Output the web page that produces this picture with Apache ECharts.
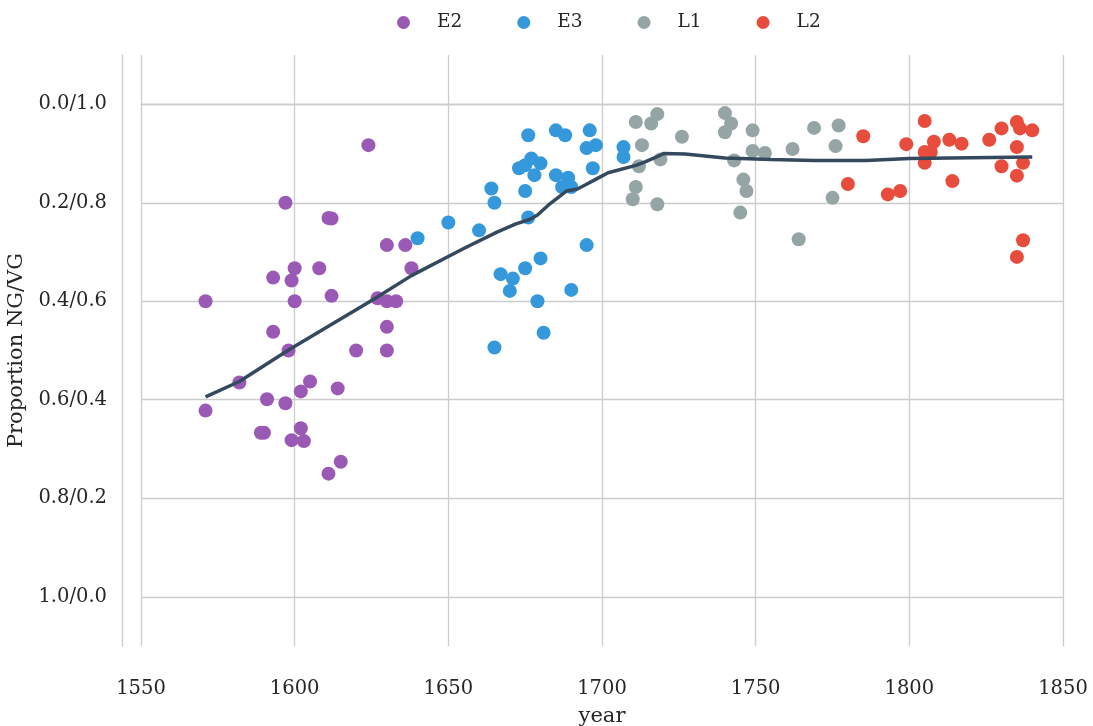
<!DOCTYPE html>
<html>
<head>
<meta charset="utf-8">
<script src="https://cdn.jsdelivr.net/npm/echarts@6/dist/echarts.min.js"></script>
<style>html,body{margin:0;padding:0;background:#fff}#c{width:1093px;height:726px}</style>
</head>
<body>
<div id="c"></div>
<script>
// ---- data ----
const e2Years = [1624,1597,1611,1612,1630,1636,1600,1608,1593,1599,1638,1571,1600,1612,1627,1630,1633,1593,1630,1598,1620,1630,1582,1605,1602,1614,1571,1591,1597,1589,1590,1602,1599,1603,1615,1611];
const e2Vals  = [0.083,0.200,0.231,0.232,0.286,0.286,0.333,0.333,0.352,0.358,0.333,0.400,0.400,0.389,0.394,0.400,0.400,0.462,0.452,0.500,0.500,0.500,0.565,0.563,0.583,0.577,0.622,0.599,0.607,0.667,0.667,0.658,0.682,0.684,0.726,0.750];

const e3Years = [1676,1685,1688,1696,1695,1698,1707,1707,1673,1675,1677,1680,1678,1685,1689,1687,1690,1697,1664,1665,1675,1676,1650,1660,1640,1695,1680,1675,1667,1671,1670,1690,1679,1681,1665];
const e3Vals  = [0.063,0.053,0.063,0.053,0.089,0.083,0.087,0.107,0.130,0.124,0.110,0.120,0.144,0.144,0.149,0.168,0.168,0.130,0.171,0.200,0.176,0.230,0.240,0.256,0.272,0.286,0.313,0.333,0.345,0.354,0.379,0.377,0.400,0.464,0.494];

const l1Years = [1711,1716,1718,1713,1712,1719,1726,1711,1710,1718,1740,1742,1740,1749,1749,1753,1743,1746,1747,1745,1762,1769,1777,1776,1775,1764];
const l1Vals  = [0.036,0.039,0.020,0.083,0.126,0.112,0.066,0.168,0.193,0.203,0.018,0.039,0.057,0.053,0.095,0.099,0.114,0.153,0.176,0.220,0.091,0.048,0.043,0.085,0.190,0.274];

const l2Years = [1785,1780,1793,1797,1799,1805,1808,1805,1807,1805,1813,1817,1814,1826,1830,1830,1835,1836,1840,1835,1837,1835,1837,1835];
const l2Vals  = [0.065,0.162,0.183,0.176,0.081,0.034,0.076,0.097,0.097,0.119,0.072,0.080,0.156,0.072,0.049,0.126,0.036,0.049,0.053,0.087,0.119,0.145,0.276,0.310];

const trendYears = [1571,1582,1598,1626,1638,1655,1666,1672,1676.5,1679,1682.5,1686,1688.5,1692,1694.5,1699,1702,1711,1714,1718.5,1720,1727,1740,1755,1769,1786,1800,1840];
const trendVals  = [0.594,0.563,0.499,0.395,0.348,0.293,0.259,0.243,0.234,0.225,0.205,0.188,0.176,0.172,0.164,0.149,0.139,0.124,0.117,0.105,0.100,0.101,0.109,0.112,0.114,0.114,0.110,0.107];

const yTicks = [0, 0.2, 0.4, 0.6, 0.8, 1.0];
const seriesNames = ['E2','E3','L1','L2'];
const colors = ['#9b59b6','#3498db','#95a5a6','#e74c3c'];

// ---- chart ----
const zip = (xs, ys) => xs.map((x, i) => [x, ys[i]]);
const groups = [[e2Years,e2Vals],[e3Years,e3Vals],[l1Years,l1Vals],[l2Years,l2Vals]];
const FONT = 'DejaVu Serif';
const TXT = '#262626';
const GRID = '#cccccc';

const chart = echarts.init(document.getElementById('c'), null, {renderer:'canvas'});
chart.setOption({
  animation: false,
  backgroundColor: '#fff',
  color: colors,
  textStyle: {fontFamily: FONT, color: TXT},
  legend: {
    data: seriesNames,
    left: 392, top: 8,
    icon: 'circle',
    itemWidth: 13, itemHeight: 13,
    itemGap: 55,
    textStyle: {fontFamily: FONT, fontSize: 18.5, color: TXT, padding: [0,0,0,22]}
  },
  grid: {left: 141, right: 30, top: 55, bottom: 80, containLabel: false, outerBoundsMode: 'none'},
  xAxis: {
    type: 'value', min: 1550, max: 1850, interval: 50,
    offset: 19,
    name: 'year', nameLocation: 'middle', nameGap: 41,
    nameTextStyle: {fontFamily: FONT, fontSize: 21, color: TXT},
    axisLine: {show: true, lineStyle: {color: GRID, width: 1.3}},
    axisTick: {show: false},
    axisLabel: {fontFamily: FONT, fontSize: 19.5, color: TXT, margin: 14, formatter: v => String(v)},
    splitLine: {show: true, lineStyle: {color: GRID, width: 1.3}}
  },
  yAxis: {
    type: 'value', inverse: true, min: -0.1, max: 1.1,
    offset: 19,
    name: 'Proportion NG/VG', nameLocation: 'middle', nameGap: 88,
    nameTextStyle: {fontFamily: FONT, fontSize: 21, color: TXT},
    axisLine: {show: true, lineStyle: {color: GRID, width: 1.3}},
    axisTick: {show: false, customValues: yTicks},
    axisLabel: {fontFamily: FONT, fontSize: 19.5, color: TXT, margin: 15, customValues: yTicks,
      formatter: v => v.toFixed(1) + '/' + (1 - v).toFixed(1)},
    splitLine: {show: true, lineStyle: {color: GRID, width: 1.3}}
  },
  series: groups.map((g, i) => ({
    name: seriesNames[i], type: 'scatter', symbol: 'circle', symbolSize: 14,
    itemStyle: {color: colors[i], opacity: 1},
    data: zip(g[0], g[1]), z: 2
  })).concat([{
    name: 'trend', type: 'line', data: zip(trendYears, trendVals),
    showSymbol: false, symbol: 'none', smooth: false, z: 5,
    lineStyle: {color: '#34495e', width: 3.5}
  }])
});
</script>
</body>
</html>
